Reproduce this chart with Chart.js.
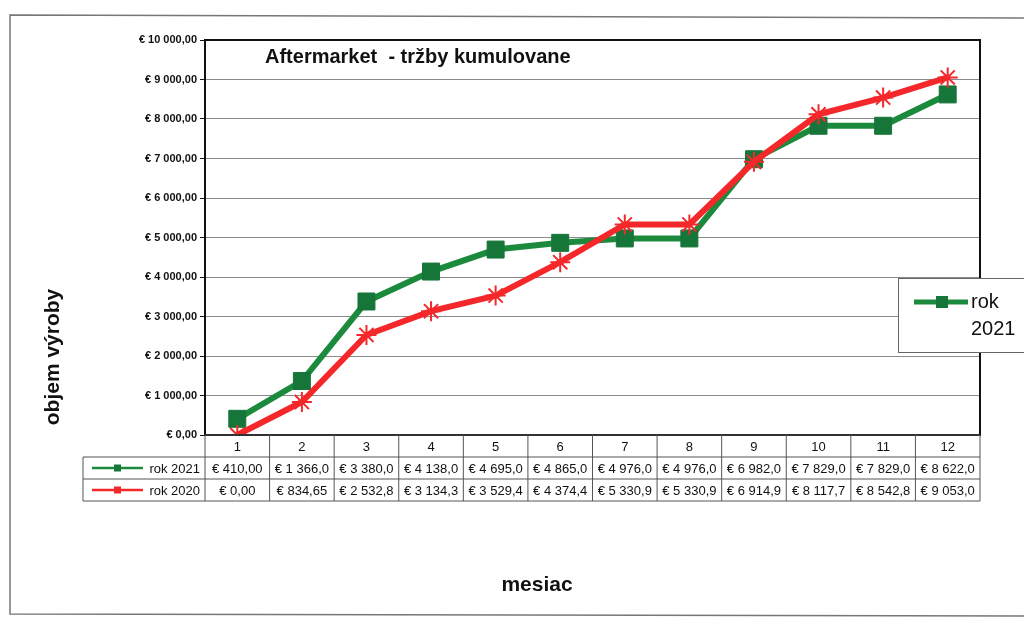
<!DOCTYPE html>
<html>
<head>
<meta charset="utf-8">
<script src="https://cdn.jsdelivr.net/npm/chart.js@4/dist/chart.umd.min.js"></script>
<style>
  html, body { margin: 0; padding: 0; background: #fff; }
  #wrap { width: 1024px; height: 621px; }
</style>
</head>
<body>
<div id="wrap"><canvas id="myChart" width="1024" height="621"></canvas></div>
<script>
var months = ['1', '2', '3', '4', '5', '6', '7', '8', '9', '10', '11', '12'];
var rok2021 = [410, 1366, 3380, 4138, 4695, 4865, 4976, 4976, 6982, 7829, 7829, 8622];
var rok2020 = [0, 834.65, 2532.8, 3134.3, 3529.4, 4374.4, 5330.9, 5330.9, 6914.9, 8117.7, 8542.8, 9053.0];
var yMin = 0, yMax = 10000, yStep = 1000;

var green = '#1c8a3d';
var greenDark = '#16763a';
var red = '#f4282a';
var font = '"Liberation Sans", Arial, sans-serif';

function eur(v, d) {
  var parts = v.toFixed(d).split('.');
  var whole = parts[0].replace(/\B(?=(\d{3})+(?!\d))/g, ' ');
  return '€ ' + whole + (d ? ',' + parts[1] : '');
}
function cellText(v) { return eur(v, v < 1000 ? 2 : 1); }

// frame, title, right border, data table, legend box, axis titles
var decor = {
  id: 'decor',
  beforeDraw: function (chart) {
    var c = chart.ctx;
    c.save();
    c.strokeStyle = '#777';
    c.lineWidth = 1.5;
    c.beginPath();
    c.moveTo(1030, 18); c.lineTo(10, 15); c.lineTo(10, 614); c.lineTo(1030, 616);
    c.stroke();
    c.restore();
  },
  afterDraw: function (chart) {
    var c = chart.ctx, a = chart.chartArea, x = chart.scales.x;
    var step = x.getPixelForValue(1) - x.getPixelForValue(0);
    c.save();

    // plot box top/right/bottom
    c.strokeStyle = '#111';
    c.lineWidth = 2;
    c.beginPath();
    c.moveTo(a.left, a.top); c.lineTo(a.right, a.top); c.lineTo(a.right, a.bottom); c.lineTo(a.left, a.bottom);
    c.stroke();

    // title inside plot
    c.fillStyle = '#111';
    c.font = 'bold 20px ' + font;
    c.textAlign = 'left';
    c.textBaseline = 'middle';
    c.fillText('Aftermarket  - tržby kumulovane', 265, 57);

    // data table
    var rowH = 22;
    var top = a.bottom, r1 = top + rowH, r2 = r1 + rowH, r3 = r2 + rowH;
    var labelLeft = 83;
    c.strokeStyle = '#555';
    c.lineWidth = 1;
    c.beginPath();
    c.moveTo(a.left, top); c.lineTo(a.right, top);
    c.moveTo(labelLeft, r1); c.lineTo(a.right, r1);
    c.moveTo(labelLeft, r2); c.lineTo(a.right, r2);
    c.moveTo(labelLeft, r3); c.lineTo(a.right, r3);
    c.moveTo(labelLeft, r1); c.lineTo(labelLeft, r3);
    for (var i = 0; i <= months.length; i++) {
      var lx = a.left + i * step;
      c.moveTo(lx, top); c.lineTo(lx, r3);
    }
    c.stroke();

    c.font = '13px ' + font;
    c.textAlign = 'center';
    c.fillStyle = '#111';
    months.forEach(function (m, i) {
      var cx = x.getPixelForValue(i);
      c.fillText(m, cx, top + rowH / 2 + 1);
      c.fillText(cellText(rok2021[i]), cx, r1 + rowH / 2 + 1);
      c.fillText(cellText(rok2020[i]), cx, r2 + rowH / 2 + 1);
    });

    var rows = [['rok 2021', green, greenDark, r1], ['rok 2020', red, red, r2]];
    rows.forEach(function (r) {
      var cy = r[3] + rowH / 2;
      c.strokeStyle = r[1];
      c.lineWidth = 2.5;
      c.beginPath(); c.moveTo(92, cy); c.lineTo(143, cy); c.stroke();
      c.fillStyle = r[2];
      c.fillRect(114, cy - 3.5, 7, 7);
      c.fillStyle = '#111';
      c.font = '13px ' + font;
      c.textAlign = 'right';
      c.fillText(r[0], 200, cy + 1);
    });

    // legend box
    c.fillStyle = '#fff';
    c.fillRect(898, 278, 126, 74);
    c.strokeStyle = '#666';
    c.lineWidth = 1;
    c.strokeRect(898.5, 278.5, 140, 74);
    c.strokeStyle = green;
    c.lineWidth = 5;
    c.beginPath(); c.moveTo(914, 302); c.lineTo(968, 302); c.stroke();
    c.fillStyle = greenDark;
    c.fillRect(936, 296, 12, 12);
    c.fillStyle = '#111';
    c.font = '20px ' + font;
    c.textAlign = 'left';
    c.fillText('rok', 971, 302);
    c.fillText('2021', 971, 329);

    // axis titles
    c.font = 'bold 21px ' + font;
    c.textAlign = 'center';
    c.fillText('mesiac', 537, 585);
    c.translate(53, 357);
    c.rotate(-Math.PI / 2);
    c.fillText('objem výroby', 0, 0);
    c.restore();
  }
};

var ctx = document.getElementById('myChart').getContext('2d');
var myChart = new Chart(ctx, {
  type: 'line',
  data: {
    labels: months,
    datasets: [{
      label: 'rok 2021',
      data: rok2021,
      borderColor: green,
      borderWidth: 6,
      pointStyle: 'rect',
      pointRadius: 12,
      pointBackgroundColor: greenDark,
      pointBorderColor: greenDark,
      pointBorderWidth: 1,
      tension: 0,
      order: 1
    }, {
      label: 'rok 2020',
      data: rok2020,
      borderColor: red,
      borderWidth: 6,
      pointStyle: 'star',
      pointRadius: 10,
      pointBorderColor: red,
      pointBorderWidth: 2,
      tension: 0,
      order: 0
    }]
  },
  options: {
    responsive: false,
    animation: false,
    layout: { padding: { top: 40, right: 44, bottom: 186, left: 0 } },
    plugins: {
      legend: { display: false },
      title: { display: false },
      tooltip: { enabled: false }
    },
    scales: {
      x: {
        display: false,
        offset: true
      },
      y: {
        min: yMin,
        max: yMax,
        afterFit: function (scale) { scale.width = 205; },
        border: { display: true, color: '#111', width: 2 },
        grid: {
          color: '#8a8a8a',
          lineWidth: 1,
          tickLength: 5,
          tickColor: '#111'
        },
        ticks: {
          stepSize: yStep,
          padding: 3,
          color: '#111',
          font: { family: font, size: 11, weight: 'bold' },
          callback: function (v) { return eur(v, 2); }
        }
      }
    }
  },
  plugins: [decor]
});
</script>
</body>
</html>
